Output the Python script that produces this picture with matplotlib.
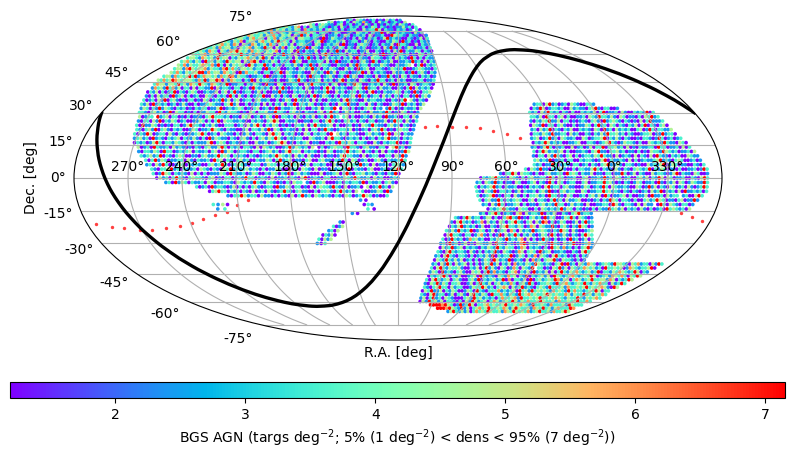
import numpy as np
import matplotlib
matplotlib.use("Agg")
import matplotlib.pyplot as plt

# targets per map cell, one digit per cell, 0 = empty cell
CELL_DENS = 1.192
VMIN = 1.19
VMAX = 7.15
CENTER_RA = 120.0

# (dec, ra at left end, ra at right end, counts)
ngc_rows = [
    (84, 240, 115, "23143212312142312"),
    (82, 256, 106, "3412313143252131423123214"),
    (80, 269, 95, "4313432213412312314213121323143213"),
    (78, 298, 93, "434324513143243212314213231312431321212242313"),
    (76, 298, 90, "35243423243153232313423131233114233641322132312031"),
    (74, 298, 90, "4334253143242343534313321243112214323132261421323221423"),
    (72, 298, 87, "35433424353243414262413324122312431232314122311643321322112"),
    (70, 298, 88, "3443245343143524323414433232161243221213142132312462322113212413"),
    (68, 298, 89, "432435134424534246343142332213461232324123312421321132431623121322"),
    (66, 298, 90, "34534254143254234253143424134322143123234161221343212313224163321141322"),
    (64, 300, 90, "4334253442314345243263414251343122614321323124313214231122314262131243122313"),
    (62, 299, 90, "343254314325464342534324345132341621322412313262142331224113212314261322431321"),
    (60, 296, 91, "43345243462343436324253143413262314123221314631223314221313243161231432312143132"),
    (58, 294, 91, "3443254342634413243453424624132332314213621312423231324163221433212314232163131322"),
    (56, 293, 91, "345324316342432643441425641232431323163411322331412612231213421631232411223262314132"),
    (54, 290, 92, "435243345435263142434316423362313213324213262143321132214262331322432113223401361323"),
    (52, 288, 92, "34425643445243325635324434233162334112321342362313243211423162341133212432361123432213"),
    (50, 286, 93, "4353243446625344254341625334213312361432232114323162413321223614132321142231261342132"),
    (48, 287, 94, "34425343463623544342534652433212233161223213321423162331234212316243113221412263121431322132312"),
    (46, 287, 95, "43534654344432536244651425433132614233221311243263212234132312461322143213263312314231122331223"),
    (44, 286, 96, "354424436342543643254323612233132432162214312233114263322313412132643112323142161223143123321"),
    (42, 284, 97.5, "25342635241331413322614233213312316323231413621232314212213641323211343162331422311321361423231"),
    (40, 284, 99, "13241312361321343112322413413621233124131122622113233141322361142312331321461213223431321621334"),
    (38, 282, 100, "21314233162341312311432132316314213123361142313214312213612432131322341623123314231321331261342"),
    (36, 281, 102, "3123142613421213312143123262413412331342231131243163223141311322314623211423322311321360421321"),
    (34, 280, 104, "32416232312312421131223432213462411312231413132413261332431212312143262213314213211243261323124"),
    (32, 278, 106, "24313262432132312132331224612323431213412312613223412311324133260143131213431320263121322314"),
    (30, 277, 108, "3321342312614331213122433163243321214313342263321342213221341362312423113214223263121431212"),
    (28, 275, 108.6, "41233062341331213122213463332312214341231243161332314213241231362303413112321423162231133142"),
    (26, 274, 109, "2133142613243123112243131361433223211323213464113223112213312463121342313213312241263314213"),
    (24, 273.5, 110.5, "3162243121213312463321324211333123142463132431212133241363223413112312143263221342313212"),
    (22, 272, 111, "32134261342132311243122364321322112413324261431232213141331263212332412123134263121343312"),
    (20, 272, 112, "313264123314213212234631231432213124213321463413231214313233160423133211342321361431322"),
    (18, 271, 112.6, "23423162321323413224213162432213213421313424364213223311432231463321232313123132462231323"),
    (16, 270, 113, "132312463133243213132224613431232123114223123464121323412211323163243133211421323361213"),
    (14, 267, 113.5, "4123163223142321213213422463132313321414323112362432314013123433163321342213310462312"),
    (12, 266, 114, "2133243163312323413223134162431233213312342312463341323212143122363234132131413211264"),
    (10, 264, 115.5, "32342361321343112213422363431323213212332364323142314211312212463322141233113314262"),
    (8, 261, 116, "31362431223314213223163413213423113224313623412213411342213263143123113421322363"),
    (6, 260, 117, "2314263112431323211342363123432133312433133263412413323114213343262314122313432"),
    (4, 257, 118, "32133462313223143213214362323423213122431162314321412214233261322134112312463"),
    (2, 256, 119.5, "31264313232141313122243163223124311324313261342321114122341362133423213213261"),
    (0, 254, 120, "14231363213433213412133123263312321412231321461232133112243263223142311232"),
    (-2, 249, 121, "23162431322314312233214323263214321213143302162341112313233261322313421"),
    (-4, 232, 123, "3123162332124131313421233162243133121413433263214122310412362314"),
    (-6, 225, 124, "13463313231321412314212363213422113133421363231403112243162"),
    (-8, 215, 126, "213364233142213132141362314323213214312364312113"),
]

sgc_rows = [
    (34, 35, -2, "23314623123143211332"),
    (32, 38, -15, "13264123323114232213462133112"),
    (30, 40, -35, "32314263231321311323241361223142113232613"),
    (28, 40, -36, "332416331341311223143263324214312213143623"),
    (26, 41, -37, "21324362241331212321342162343213212141362223"),
    (24, 42, -38, "143261331342113122431362314313213241361321341"),
    (22, 42, -39, "23142361321324113232143162314232311341263133224"),
    (20, 43, -40, "133243262233142311321324263342313211233412262331"),
    (18, 43.4, -42, "23412362314322311431233461324213211213321263123123"),
    (16, 43, -44, "132364232311223411332123463212433213114323263221431"),
    (14, 44, -45, "2312463122311412312413361334231412132233163312231413"),
    (12, 43.4, -47, "31364232341311223213462213342312213121433264323122314"),
    (10, 44, -48, "213314263213413123324363221412321413214163221323114322"),
    (8, 43.5, -49, "3423261223133113233212461322321413123223462321343112312"),
    (6, 44, -50.5, "32312263123213312313213462242133212114232461243122113213"),
    (4, 49, -52, "3143262213234211313322463132214213213432361324312213112231263"),
    (2, 63, -52, "213364143321311342233163431322412213312263124132114233212461322143112"),
    (0, 74, -52, "1323463221432131342233163143122311341223262314312311342413264143122311321463"),
    (-2, 76, -52, "23143262312214311234132163143123311341223363421213212431223162132414312432263"),
    (-4, 76.6, -52, "31323462313223112132321462331342211243123263143223211431262413214312314212363"),
    (-6, 76, -52, "32143261332312413223134261213423311431223363423213213212314236132314162232313"),
    (-8, 75.3, -50, "3123461213314213133423163312143112313424163122341311224162231423302311463"),
    (-10, 74, -48, "31342263132343113413321362314223411212313264313321311342364312213412262"),
    (-12, 72, -46, "2314263122341312213423263312423214112233164213321414220163143213312"),
    (-14, 69, -45, "1323463221433113143232362431321213132263424132314213123163432314"),
    (-16, 73, 10, "2313463123214514233261324113213462332"),
    (-18, 87, 9, "321364233124413113563261213423162431124363143212"),
    (-20, 89, 8, "21463231235142314313463213414265131243112413623"),
    (-22, 90, 7, "132462323124113213463324312541432262134213264312"),
    (-24, 91.5, 6, "324263236124312412341531423262343213264314211234"),
    (-26, 92, 5, "1463321331245213126142363132421243163124213213643"),
    (-28, 93, 3.5, "31263231253423113243262324514131263213123162312413"),
    (-30, 94, 2, "23162312412143224163213212561322432163214236112352"),
    (-32, 94, 1, "142362341323213243263243312541323213163425231313462"),
    (-34, 95, 1, "321463233214213132362143212541343162341223211321463"),
    (-36, 96, 0.5, "231463213321312324261323361243132514321463231213132"),
    (-38, 96.4, 0, "143263242412313124316423261232141523134462143321312"),
    (-40, 97, -53, "2314263142341313124362413241523243264323213461623143254312343264432143523314263"),
    (-42, 97.5, -51.5, "31463243342113241362421431253143260331214362414323543423163343412543233461"),
    (-44, 98, -50, "243162321342114341362523213451324162324141363243532342361332435432364132"),
    (-46, 98.5, -49, "1323463132411234163232143253413261323424164323453234364123425435314364"),
    (-48, 99.5, -47, "31463234134211342613234236151332416134234365244135423463344254132364"),
    (-50, 100, -46, "214362431334112413632413423253134263123343263453234363243533142363"),
    (-52, 100, -45, "3213463314233112433642313454142362321343263334253343463434542164"),
    (-54, 101, -43, "14362241324311243163213335232341634263434325343263533234364133"),
    (-56, 101, -46, "3214623312413421463243163353243263453433464343354243363424353"),
    (-58, 101, -47, "2413623143211134263423231353345263343463343543243363243453"),
    (-60, 101, -45, "14263424133213142642341354234364243533464334253343463353"),
    (-62, 91, -44, "666656431262364133453433463343543263343253334264333"),
    (-64, 83, -44, "6665643262413453463343542464334254363424533365"),
    (-66, 71, -47, "2463242413534364334254364343523463342533464"),
]

# small separate patches of the footprint
island_rows = [
    (-12, 224, 216, "3241"),
    (-14, 222, 218, "23"),
    (-10, 141, 138, "21"),
    (-12, 139, 134.6, "132"),
    (-14, 137, 133.5, "31"),
    (-16, 146, 143, "21"),
    (-20, 153.4, 151.7, "21"),
    (-22, 157.5, 152.3, "3124"),
    (-24, 160.6, 155.3, "2314"),
    (-26, 164.5, 157.4, "13241"),
    (-28, 167.4, 160.2, "31424"),
    (-30, 169, 164.3, "213"),
]

# galactic plane
plane_ra = [299.9, 295, 290, 285, 280, 275, 270, 265, 260, 255, 250, 245, 240, 235, 230, 225,
            220, 215, 210, 205, 200, 195, 190, 185, 180, 175, 170, 165, 160, 155, 150, 145,
            140, 135, 130, 125, 120, 115, 110, 105, 100, 95, 90, 85, 80, 75, 70, 65, 60, 55,
            50, 45, 40, 35, 30, 25, 20, 15, 10, 5, 0, 355, 350, 345, 340, 335, 330, 325, 320,
            315, 310, 305, 300.1]
plane_dec = [29.9, 22.3, 13.6, 4.2, -5.6, -14.9, -23.5, -30.9, -37.2, -42.4, -46.6, -50.1, -53,
             -55.4, -57.3, -58.8, -60.1, -61.1, -61.8, -62.3, -62.7, -62.9, -62.8, -62.6, -62.3,
             -61.7, -60.9, -59.9, -58.6, -57, -55, -52.6, -49.7, -46.1, -41.7, -36.3, -29.9,
             -22.3, -13.6, -4.2, 5.6, 14.9, 23.5, 30.9, 37.2, 42.4, 46.6, 50.1, 53, 55.4, 57.3,
             58.8, 60.1, 61.1, 61.8, 62.3, 62.7, 62.9, 62.8, 62.6, 62.3, 61.7, 60.9, 59.9, 58.6,
             57, 55, 52.6, 49.7, 46.1, 41.7, 36.3, 29.9]

# ecliptic dots
ecl_ra = [295, 287, 280, 271.5, 264, 255.5, 247, 239, 232, 224.5, 217, 210.5, 204,
          104, 97, 88.4, 80, 72, 65, 57, 50, 319, 312, 305]
ecl_dec = [-20.9, -22.3, -22.8, -23.6, -23.6, -22.8, -21.8, -20.4, -18.6, -16.8, -15.4,
           -12.2, -9.9, 23, 23.8, 23.2, 23.2, 22.8, 21.3, 19.9, 18.1, -15.8, -17.6, -19.5]

ra_tick_labels = ["270°", "240°", "210°", "180°", "150°", "120°", "90°", "60°", "30°", "0°", "330°"]


def to_lon(ra):
    ra = np.asarray(ra, dtype=float)
    return np.radians(((CENTER_RA - ra + 180.0) % 360.0) - 180.0)


def expand_rows(rows):
    ras, decs, dens = [], [], []
    for dec, ra_a, ra_b, counts in rows:
        vals = np.array([int(c) for c in counts]) * CELL_DENS
        r = np.linspace(ra_a, ra_b, len(counts))
        keep = vals > 0
        ras.append(r[keep])
        decs.append(np.full(keep.sum(), dec, dtype=float))
        dens.append(vals[keep])
    return np.concatenate(ras), np.concatenate(decs), np.concatenate(dens)


def main():
    fig = plt.figure(figsize=(7.95, 4.58), dpi=100)
    ax = fig.add_axes([74 / 795, 118 / 458, 648 / 795, 324 / 458], projection="mollweide")

    ax.scatter(to_lon(ecl_ra), np.radians(ecl_dec), s=6, c="red", alpha=0.75, linewidths=0)

    ra, dec, dens = expand_rows(ngc_rows + sgc_rows + island_rows)
    sc = ax.scatter(to_lon(ra), np.radians(dec), c=dens, s=7, marker="o", linewidths=0,
                    cmap="rainbow", vmin=VMIN, vmax=VMAX)

    ax.plot(to_lon(plane_ra), np.radians(plane_dec), color="black", lw=2.4)

    ax.set_xticklabels(ra_tick_labels)
    ax.grid(True)
    ax.set_xlabel("R.A. [deg]")
    ax.set_ylabel("Dec. [deg]")

    cax = fig.add_axes([10 / 795, 60 / 458, 775 / 795, 16 / 458])
    cb = fig.colorbar(sc, cax=cax, orientation="horizontal")
    cb.set_ticks([2, 3, 4, 5, 6, 7])
    cb.set_label(r"BGS AGN (targs deg$^{-2}$; 5% (1 deg$^{-2}$) < dens < 95% (7 deg$^{-2}$))")

    fig.savefig("out.png", dpi=100)
    plt.close(fig)


if __name__ == "__main__":
    main()
